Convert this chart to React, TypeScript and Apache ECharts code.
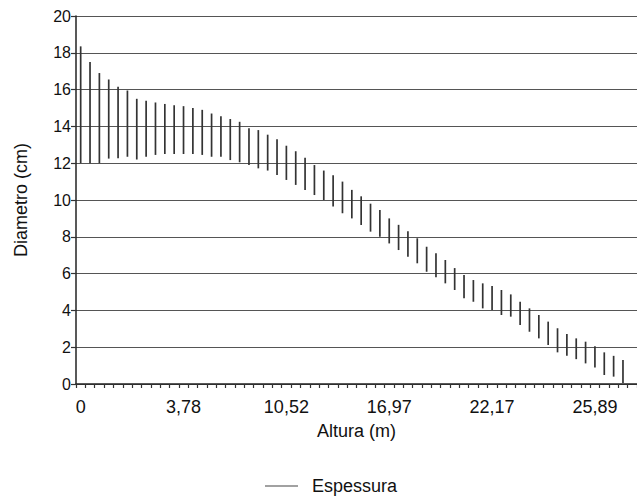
import React, { useEffect, useRef } from "react";
import * as echarts from "echarts";

// Tick labels shown on the x axis (Altura, m), one every 11 categories
const tickLabels = ["0", "3,78", "10,52", "16,97", "22,17", "25,89"];
const labelStep = 11;
const categoryCount = 60;

// Upper end of each segment (cm)
const highs = [
  18.35, 17.5, 16.9, 16.55, 16.15, 15.95, 15.5, 15.4, 15.3, 15.22,
  15.15, 15.1, 15.0, 14.9, 14.7, 14.55, 14.4, 14.25, 13.9, 13.8,
  13.55, 13.3, 12.95, 12.65, 12.3, 11.9, 11.6, 11.35, 11.0, 10.55,
  10.2, 9.8, 9.45, 9.0, 8.65, 8.3, 7.92, 7.46, 7.1, 6.74,
  6.3, 5.92, 5.65, 5.47, 5.33, 5.11, 4.87, 4.47, 4.11, 3.75,
  3.39, 3.03, 2.72, 2.48, 2.3, 2.05, 1.72, 1.53, 1.3,
];

// Lower end of each segment (cm)
const lows = [
  12.0, 12.0, 12.0, 12.25, 12.27, 12.35, 12.2, 12.35, 12.45, 12.5,
  12.5, 12.5, 12.5, 12.45, 12.35, 12.35, 12.17, 12.05, 11.9, 11.72,
  11.6, 11.36, 11.09, 10.82, 10.54, 10.27, 10.0, 9.64, 9.28, 9.0,
  8.64, 8.28, 8.0, 7.64, 7.28, 6.92, 6.56, 6.1, 5.8, 5.47,
  5.11, 4.66, 4.47, 4.11, 4.02, 3.75, 3.66, 3.2, 2.84, 2.48,
  2.12, 1.72, 1.53, 1.35, 1.12, 0.9, 0.49, 0.4, 0.06,
];

const categories = Array.from({ length: categoryCount }, (_, i) =>
  i % labelStep === 0 && tickLabels[i / labelStep] !== undefined
    ? tickLabels[i / labelStep]
    : String(i)
);

const FONT = "'Liberation Sans', Arial, sans-serif";
const TEXT = "#111";

export default function App() {
  const ref = useRef<HTMLDivElement>(null);
  useEffect(() => {
    if (!ref.current) return;
    const chart = echarts.init(ref.current, null, { renderer: "svg" });
    const data = highs.map((h, i) => [i, lows[i], h]);
    chart.setOption({
      animation: false,
      backgroundColor: "#ffffff",
      grid: { left: 76, top: 16, width: 566.4, height: 368, containLabel: false },
      legend: {
        left: 260,
        top: 472,
        itemWidth: 33,
        itemHeight: 1.2,
        icon: "rect",
        textStyle: { fontFamily: FONT, fontSize: 18, color: TEXT, padding: [0, 0, 0, 9] },
        data: [{ name: "Espessura", icon: "rect" }],
      },
      xAxis: {
        type: "category",
        data: categories,
        boundaryGap: true,
        name: "Altura (m)",
        nameLocation: "middle",
        nameGap: 38,
        nameTextStyle: { fontFamily: FONT, fontSize: 18, color: TEXT },
        axisLine: { lineStyle: { color: "#222", width: 1.5 } },
        axisTick: { show: true, interval: 0, length: 4, lineStyle: { color: "#333", width: 1.2 } },
        axisLabel: {
          interval: labelStep - 1,
          margin: 14,
          fontFamily: FONT,
          fontSize: 18,
          color: TEXT,
        },
        splitLine: { show: false },
      },
      yAxis: {
        type: "value",
        min: 0,
        max: 20,
        interval: 2,
        name: "Diametro (cm)",
        nameLocation: "middle",
        nameGap: 46,
        nameTextStyle: { fontFamily: FONT, fontSize: 18, color: TEXT },
        axisLine: { show: true, lineStyle: { color: "#222", width: 1.5 } },
        axisTick: { show: true, length: 5, lineStyle: { color: "#333", width: 1.2 } },
        axisLabel: { margin: 5, fontFamily: FONT, fontSize: 16, color: TEXT },
        splitLine: { show: true, lineStyle: { color: "#555", width: 1 } },
      },
      series: [
        {
          name: "Espessura",
          type: "custom",
          itemStyle: { color: "#444" },
          encode: { x: 0, y: [1, 2] },
          data,
          renderItem: (params: any, api: any) => {
            const x = api.value(0);
            const p1 = api.coord([x, api.value(1)]);
            const p2 = api.coord([x, api.value(2)]);
            return {
              type: "line",
              shape: { x1: p1[0], y1: p1[1], x2: p2[0], y2: p2[1] },
              style: { stroke: "#333", lineWidth: 1.7 },
            };
          },
        },
      ],
    });
    return () => chart.dispose();
  }, []);
  return (
    <div
      ref={ref}
      style={{ position: "absolute", left: 0, top: 0, width: 637, height: 497 }}
    />
  );
}
